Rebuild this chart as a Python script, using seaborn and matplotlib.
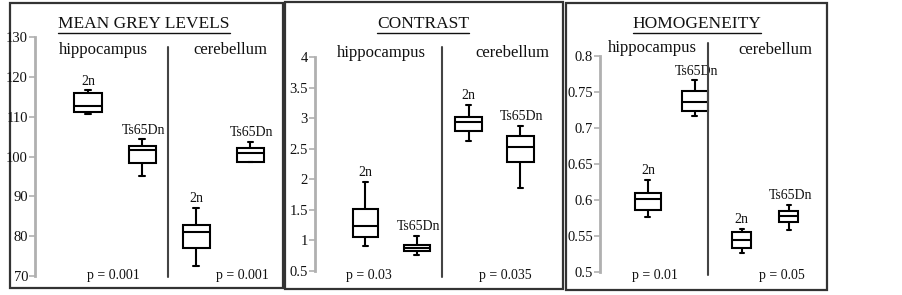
import numpy as np
import pandas as pd
import matplotlib
matplotlib.use("Agg")
import matplotlib.pyplot as plt
from matplotlib.lines import Line2D
from matplotlib.patches import Rectangle
import seaborn as sns

# ---------------- data ----------------
regions = ["hippocampus", "cerebellum"]
groups = ["hippocampus 2n", "hippocampus Ts65Dn", "cerebellum 2n", "cerebellum Ts65Dn"]
group_labels = ["2n", "Ts65Dn", "2n", "Ts65Dn"]

# five-number summaries: [whisker low, Q1, median, Q3, whisker high]
mgl_stats = [[110.7, 111.2, 112.6, 116.0, 116.6],
             [95.1, 98.4, 101.6, 102.6, 104.3],
             [72.6, 77.0, 81.0, 82.8, 87.1],
             [98.5, 98.7, 100.9, 102.2, 103.7]]
contrast_stats = [[0.905, 1.05, 1.23, 1.51, 1.96],
                  [0.76, 0.83, 0.87, 0.92, 1.07],
                  [2.63, 2.79, 2.94, 3.02, 3.22],
                  [1.85, 2.29, 2.53, 2.70, 2.87]]
homog_stats = [[0.577, 0.586, 0.601, 0.610, 0.628],
               [0.717, 0.7235, 0.7355, 0.752, 0.766],
               [0.527, 0.534, 0.544, 0.555, 0.560],
               [0.558, 0.570, 0.5777, 0.5844, 0.593]]

titles = ["MEAN GREY LEVELS", "CONTRAST", "HOMOGENEITY"]
mgl_p = ["p = 0.001", "p = 0.001"]
contrast_p = ["p = 0.03", "p = 0.035"]
homog_p = ["p = 0.01", "p = 0.05"]

mgl_ticks = [70, 80, 90, 100, 110, 120, 130]
mgl_ticklabels = ["70", "80", "90", "100", "110", "120", "130"]
contrast_ticks = [0.5, 1, 1.5, 2, 2.5, 3, 3.5, 4]
contrast_ticklabels = ["0.5", "1", "1.5", "2", "2.5", "3", "3.5", "4"]
homog_ticks = [0.5, 0.55, 0.6, 0.65, 0.7, 0.75, 0.8]
homog_ticklabels = ["0.5", "0.55", "0.6", "0.65", "0.7", "0.75", "0.8"]

# ---------------- style ----------------
sns.set_style("white")
plt.rcParams["font.family"] = ["Liberation Serif", "DejaVu Serif"]

W, H = 902, 295
fig = plt.figure(figsize=(W / 100, H / 100), dpi=100)
fig.patch.set_facecolor("white")


def fx(px):
    return px / W


def fy(py):
    return 1 - py / H


panels = [
    dict(stats=mgl_stats, pvals=mgl_p, ticks=mgl_ticks, tlabels=mgl_ticklabels,
         title=titles[0], border=(10, 3, 283, 288),
         ax=(35, 37, 280, 276), xlim=(-0.98, 3.55),
         divider=(168, 47, 277),
         title_xy=(144, 24), region_xy=[(103, 50), (230, 50)],
         p_xy=[(113, 275), (242, 275)], widths=[0.5, 0.5]),
    dict(stats=contrast_stats, pvals=contrast_p, ticks=contrast_ticks, tlabels=contrast_ticklabels,
         title=titles[1], border=(285, 2, 563, 289),
         ax=(315, 57, 555, 271), xlim=(-0.97, 3.67),
         divider=(442, 47, 277),
         title_xy=(423, 24), region_xy=[(381, 53), (512, 53)],
         p_xy=[(369, 276), (505, 276)], widths=[0.49, 0.52]),
    dict(stats=homog_stats, pvals=homog_p, ticks=homog_ticks, tlabels=homog_ticklabels,
         title=titles[2], border=(566, 3, 827, 290),
         ax=(600, 56, 825, 272), xlim=(-1.02, 3.77),
         divider=(708, 43, 275),
         title_xy=(697, 24), region_xy=[(652, 48), (775, 50)],
         p_xy=[(655, 275), (782, 275)], widths=[0.55, 0.41]),
]

title_texts = []
for pan in panels:
    bx0, by0, bx1, by1 = pan["border"]
    fig.add_artist(Rectangle((fx(bx0), fy(by1)), fx(bx1) - fx(bx0), fy(by0) - fy(by1),
                             transform=fig.transFigure, fill=False,
                             edgecolor="#333333", linewidth=1.6, zorder=0))
    ax0, ay0, ax1, ay1 = pan["ax"]
    ax = fig.add_axes([fx(ax0), fy(ay1), fx(ax1) - fx(ax0), fy(ay0) - fy(ay1)])
    ax.set_facecolor("none")

    rows = []
    for g, st in zip(groups, pan["stats"]):
        for v in st:
            rows.append({"group": g, "value": v})
    df = pd.DataFrame(rows)

    for ri, reg in enumerate(regions):
        sub = df[df["group"].str.startswith(reg)]
        w = pan["widths"][ri]
        sns.boxplot(data=sub, x="group", y="value", order=groups, width=w,
                    whis=(0, 100), color="white", linecolor="black",
                    linewidth=1.5, fliersize=0, ax=ax,
                    capwidths=0.2 * w)

    ax.set_xlim(*pan["xlim"])
    ax.set_ylim(pan["ticks"][0], pan["ticks"][-1])
    ax.set_yticks(pan["ticks"])
    ax.set_yticklabels(pan["tlabels"])
    ax.set_xlabel("")
    ax.set_ylabel("")
    ax.set_xticks([])
    for s in ["top", "right", "bottom"]:
        ax.spines[s].set_visible(False)
    ax.spines["left"].set_color("#b0b0b0")
    ax.spines["left"].set_linewidth(2.0)
    ax.tick_params(axis="y", direction="out", length=4, width=1.2, color="#b0b0b0",
                   labelcolor="#111111", labelsize=10.5, pad=1, left=True)

    # group labels above whiskers
    for i, (lab, st) in enumerate(zip(group_labels, pan["stats"])):
        ax.annotate(lab, xy=(i, st[4]), xytext=(1 if lab != "2n" else 0, 2),
                    textcoords="offset points", ha="center", va="bottom",
                    fontsize=10, color="#111111")

    # divider
    dx, dy0, dy1 = pan["divider"]
    fig.add_artist(Line2D([fx(dx), fx(dx)], [fy(dy0), fy(dy1)], transform=fig.transFigure,
                          color="#444444", linewidth=1.5))

    t = fig.text(fx(pan["title_xy"][0]), fy(pan["title_xy"][1]), pan["title"],
                 ha="center", va="center", fontsize=12.5, color="#111111")
    title_texts.append(t)
    for reg, (rx, ry) in zip(regions, pan["region_xy"]):
        fig.text(fx(rx), fy(ry), reg, ha="center", va="center", fontsize=12, color="#111111")
    for pv, (px, py) in zip(pan["pvals"], pan["p_xy"]):
        fig.text(fx(px), fy(py), pv, ha="center", va="center", fontsize=10, color="#111111")

# underline titles
fig.canvas.draw()
renderer = fig.canvas.get_renderer()
for t in title_texts:
    bb = t.get_window_extent(renderer)
    yline = bb.y0 - 1.0
    fig.add_artist(Line2D([bb.x0 / W, bb.x1 / W], [yline / H, yline / H],
                          transform=fig.transFigure, color="#111111", linewidth=1.0))

fig.savefig("out.png", dpi=100, facecolor="white")
